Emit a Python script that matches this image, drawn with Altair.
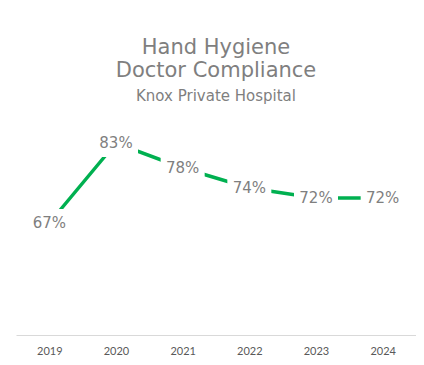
import altair as alt
import pandas as pd

years = ["2019", "2020", "2021", "2022", "2023", "2024"]
compliance = [67, 83, 78, 74, 72, 72]
labels = ["67%", "83%", "78%", "74%", "72%", "72%"]

df = pd.DataFrame({"year": years, "value": compliance, "label": labels})

x = alt.X("year:N", sort=years, title=None,
          scale=alt.Scale(paddingInner=0, paddingOuter=0),
          axis=alt.Axis(labelAngle=0, ticks=False, grid=False, domainColor="#d9d9d9",
                        domainWidth=1, labelFont="Lato", labelFontSize=11,
                        labelColor="#595959", labelPadding=10))
y = alt.Y("value:Q", title=None,
          scale=alt.Scale(domain=[44.6, 86.6], zero=False, nice=False),
          axis=None)

base = alt.Chart(df).encode(x=x, y=y)

line = base.mark_line(color="#00b050", strokeWidth=3.5)
mask = base.mark_point(shape="M-1,-0.64L1,-0.64L1,0.64L-1,0.64Z", size=1936,
                       filled=True, fill="white", stroke=None, opacity=1)
text = base.mark_text(font="DejaVu Sans", fontSize=15, color="#7f7f7f",
                      align="center", baseline="middle").encode(text="label:N")

chart = alt.layer(line, mask, text).properties(
    width=400, height=210,
    autosize=alt.AutoSizeParams(type="none"),
    padding={"left": 8, "top": 117, "right": 0, "bottom": 22},
    title=alt.TitleParams(
        text=["Hand Hygiene", "Doctor Compliance"],
        subtitle="Knox Private Hospital",
        font="DejaVu Sans", fontSize=21, fontWeight="normal", color="#7f7f7f",
        lineHeight=23, subtitleFont="DejaVu Sans", subtitleFontSize=15,
        subtitleColor="#7f7f7f", subtitlePadding=8, anchor="middle", offset=21,
    ),
).configure_view(stroke=None)

chart.save("out.html", embed_options={"renderer": "svg", "actions": False})
